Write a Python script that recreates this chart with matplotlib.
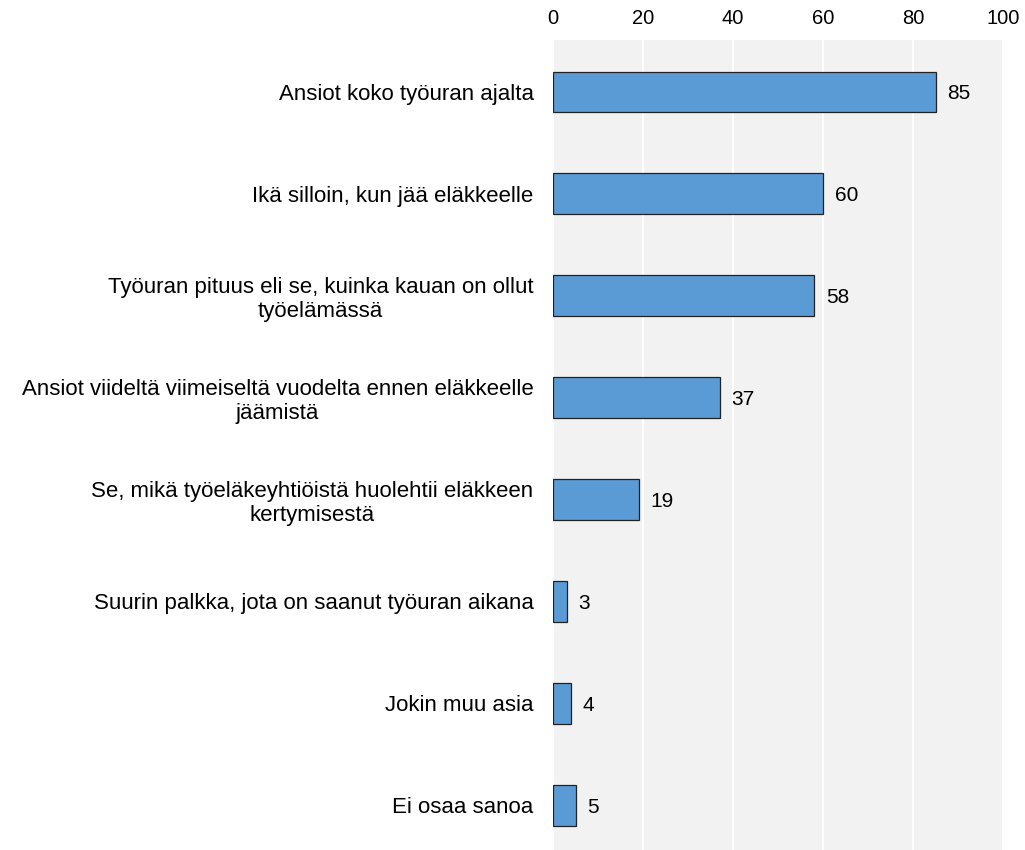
import matplotlib
matplotlib.use("Agg")
import matplotlib.pyplot as plt

plt.rcParams['font.family'] = ['Liberation Sans', 'DejaVu Sans']

labels = ["Ansiot koko työuran ajalta",
          "Ikä silloin, kun jää eläkkeelle",
          "Työuran pituus eli se, kuinka kauan on ollut\ntyöelämässä",
          "Ansiot viideltä viimeiseltä vuodelta ennen eläkkeelle\njäämistä",
          "Se, mikä työeläkeyhtiöistä huolehtii eläkkeen\nkertymisestä",
          "Suurin palkka, jota on saanut työuran aikana",
          "Jokin muu asia",
          "Ei osaa sanoa"]
values = [85, 60, 58, 37, 19, 3, 4, 5]
ticks = [0, 20, 40, 60, 80, 100]

fig = plt.figure(figsize=(10.25, 8.5), dpi=100)
ax = fig.add_axes([553/1025, 0, 450/1025, 810/850])
ax.set_facecolor("#f2f2f2")

y = range(len(values))
ax.barh(y, values, height=0.4, color="#5b9bd5", edgecolor="#222222", linewidth=0.9, zorder=3)
for yi, v in zip(y, values):
    ax.text(v + 2.6, yi, str(v), va="center_baseline", ha="left", fontsize=15, zorder=4)

ax.set_xlim(0, 100)
ax.set_ylim(7.44, -0.51)
ax.set_xticks(ticks)
ax.xaxis.tick_top()
ax.tick_params(axis="x", length=0, labelsize=14.5, pad=8.5)
ax.tick_params(axis="y", length=0, labelsize=16, pad=14)
ax.set_yticks(list(y))
ax.set_yticklabels(labels, multialignment="center")
ax.grid(axis="x", color="white", linewidth=1.5, zorder=1)
ax.set_axisbelow(True)
for s in ax.spines.values():
    s.set_visible(False)

fig.savefig("out.png", dpi=100)
